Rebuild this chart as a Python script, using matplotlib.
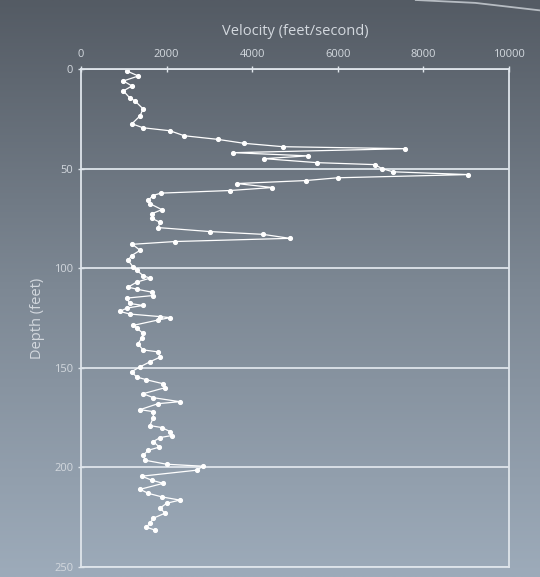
import matplotlib
matplotlib.use("Agg")
import matplotlib.pyplot as plt
import numpy as np
from matplotlib.lines import Line2D
from matplotlib.colors import LinearSegmentedColormap

# depth (feet) and velocity (feet/second)
depth = [1, 3.5, 6, 8.5, 11, 14.5, 16, 20, 23.5, 27.5, 29.5, 31, 33.5, 35.3, 37.3,
         39, 40, 42, 43.6, 45, 47, 48, 50, 51.6, 53, 54.6, 56, 57.5, 59.5, 61,
         62.3, 63.5, 66, 67.6, 70.6, 72.6, 75, 77, 79.6, 81.6, 83, 85, 86.6, 88,
         91, 93.7, 96, 99.5, 101, 103.7, 105, 107, 109.5, 110.5, 112, 113.7, 115,
         117.7, 118.7, 120, 121.7, 123, 124.3, 124.8, 126, 128.7, 130, 132.7, 135,
         138, 141, 142, 144.6, 147, 149.5, 152, 154.6, 156, 158, 160, 163, 165,
         167, 168, 171, 172, 175, 179, 180, 182, 184, 185, 187, 189.8, 191.4,
         194, 196.4, 198.4, 199.4, 201.4, 204.4, 206.4, 208, 211, 213, 214.8,
         216.4, 218, 220.4, 223, 225.5, 228, 230, 231.5]
velocity = [1070, 1340, 990, 1190, 990, 1140, 1260, 1450, 1380, 1190, 1450, 2080, 2410,
            3190, 3810, 4720, 7570, 3550, 5300, 4280, 5510, 6870, 7030, 7290, 9050,
            6000, 5250, 3640, 4470, 3480, 1870, 1680, 1570, 1610, 1890, 1660, 1660,
            1850, 1800, 3010, 4250, 4880, 2200, 1200, 1380, 1180, 1100, 1220, 1300,
            1450, 1610, 1300, 1100, 1300, 1650, 1690, 1070, 1140, 1450, 1070, 910,
            1140, 1850, 2080, 1800, 1220, 1300, 1450, 1420, 1330, 1450, 1800, 1850,
            1610, 1380, 1180, 1300, 1530, 1920, 1960, 1450, 1690, 2310, 1800, 1380,
            1690, 1690, 1610, 1890, 2080, 2120, 1850, 1690, 1830, 1570, 1450, 1500,
            2000, 2850, 2700, 1420, 1650, 1920, 1380, 1570, 1890, 2310, 2000, 1850,
            1960, 1690, 1610, 1530, 1730]

x_ticks = [0, 2000, 4000, 6000, 8000, 10000]
y_ticks = [0, 50, 100, 150, 200, 250]

plt.rcParams['font.family'] = ['Open Sans', 'DejaVu Sans']
txt = '#d3d8de'
frame = '#dfe5eb'

fig = plt.figure(figsize=(5.4, 5.77), dpi=100)

# slide-like gradient background
bg = fig.add_axes([0, 0, 1, 1], zorder=-10)
cmap = LinearSegmentedColormap.from_list('bg', ['#545b64', '#7d8894', '#9dabba'])
grad = np.linspace(0, 1, 256).reshape(-1, 1)
bg.imshow(grad, aspect='auto', cmap=cmap, extent=[0, 1, 0, 1], origin='upper')
bg.axis('off')
fig.add_artist(Line2D([0.77, 0.88, 1.0], [1.0, 0.995, 0.982],
                      transform=fig.transFigure, color='#d8dde2', lw=1.3, alpha=0.75))

ax = fig.add_axes([0.150, 0.0173, 0.7926, 0.8631])
ax.patch.set_alpha(0)
ax.plot(velocity, depth, color='white', lw=0.9, marker='o', ms=2.7,
        markerfacecolor='white', markeredgecolor='white')

ax.set_xlim(0, 10000)
ax.set_ylim(250, 0)
ax.set_xticks(x_ticks)
ax.set_yticks(y_ticks)
ax.xaxis.tick_top()
ax.xaxis.set_label_position('top')
ax.tick_params(axis='both', colors=frame, labelcolor=txt, labelsize=8,
               direction='inout', length=5, width=1)
ax.tick_params(axis='x', pad=4)
ax.tick_params(axis='y', pad=3)
ax.set_xlabel('Velocity (feet/second)', color=txt, fontsize=10.5, labelpad=10)
ax.set_ylabel('Depth (feet)', color=txt, fontsize=10.5, labelpad=7)

for s in ax.spines.values():
    s.set_color(frame)
    s.set_linewidth(1.3)
ax.yaxis.grid(True, color=frame, lw=1.3)
ax.xaxis.grid(False)
ax.set_axisbelow(True)

fig.savefig('out.png', dpi=100)
